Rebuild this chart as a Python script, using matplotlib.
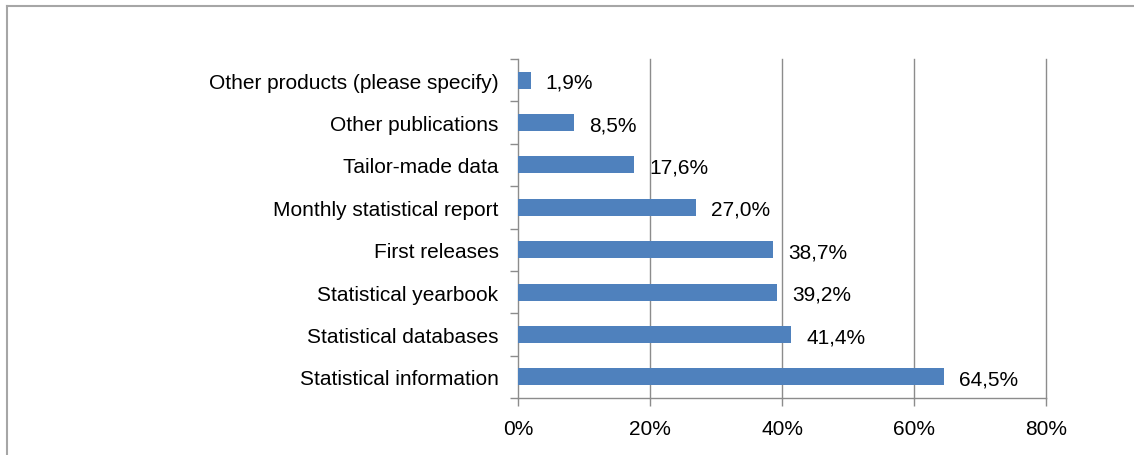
import numpy as np
import matplotlib.pyplot as plt
from matplotlib.lines import Line2D

plt.rcParams['font.family'] = ['Liberation Sans', 'DejaVu Sans']

# --- data (bottom to top) ---
categories = ["Statistical information", "Statistical databases", "Statistical yearbook",
              "First releases", "Monthly statistical report", "Tailor-made data",
              "Other publications", "Other products (please specify)"]
values = [64.5, 41.4, 39.2, 38.7, 27.0, 17.6, 8.5, 1.9]
x_ticks = [0, 20, 40, 60, 80]

FS = 15

fig = plt.figure(figsize=(11.34, 4.56), dpi=100)
ax = fig.add_axes([518/1134, 1 - 399/456, (1046-518)/1134, (399-60)/456])

y = np.arange(len(categories))
ax.barh(y, values, height=0.4, color="#4F81BD", zorder=3)

for yi, v in zip(y, values):
    ax.annotate(f"{v:.1f}%".replace(".", ","), (v, yi), xytext=(11, -1.5),
                textcoords="offset points", va="center", ha="left", fontsize=FS)

ax.set_xlim(0, 80)
ax.set_ylim(-0.5, len(categories) - 0.5)
ax.set_xticks(x_ticks)
ax.set_xticklabels([f"{t}%" for t in x_ticks], fontsize=FS)
ax.set_yticks(y)
ax.set_yticklabels(categories, fontsize=FS)
ax.set_yticks(np.arange(len(categories) + 1) - 0.5, minor=True)

# vertical gridlines (include the one at 80%)
for t in x_ticks[1:]:
    ax.axvline(t, color="#8c8c8c", linewidth=1, zorder=0, clip_on=False)
for s in ["top", "right"]:
    ax.spines[s].set_visible(False)
for s in ["left", "bottom"]:
    ax.spines[s].set_color("#8c8c8c")
    ax.spines[s].set_linewidth(1)

ax.tick_params(axis="y", which="major", length=0, pad=14)
ax.tick_params(axis="y", which="minor", length=6, color="#8c8c8c", width=1)
ax.tick_params(axis="x", length=6, color="#8c8c8c", width=1, pad=9)

# outer chart frame
fig.add_artist(Line2D([7/1134, 7/1134], [0, 1 - 7/456], color="#a6a6a6", linewidth=1.5,
                      transform=fig.transFigure))
fig.add_artist(Line2D([7/1134, 1], [1 - 7/456, 1 - 7/456], color="#a6a6a6", linewidth=1.5,
                      transform=fig.transFigure))

fig.savefig("out.png", dpi=100)
